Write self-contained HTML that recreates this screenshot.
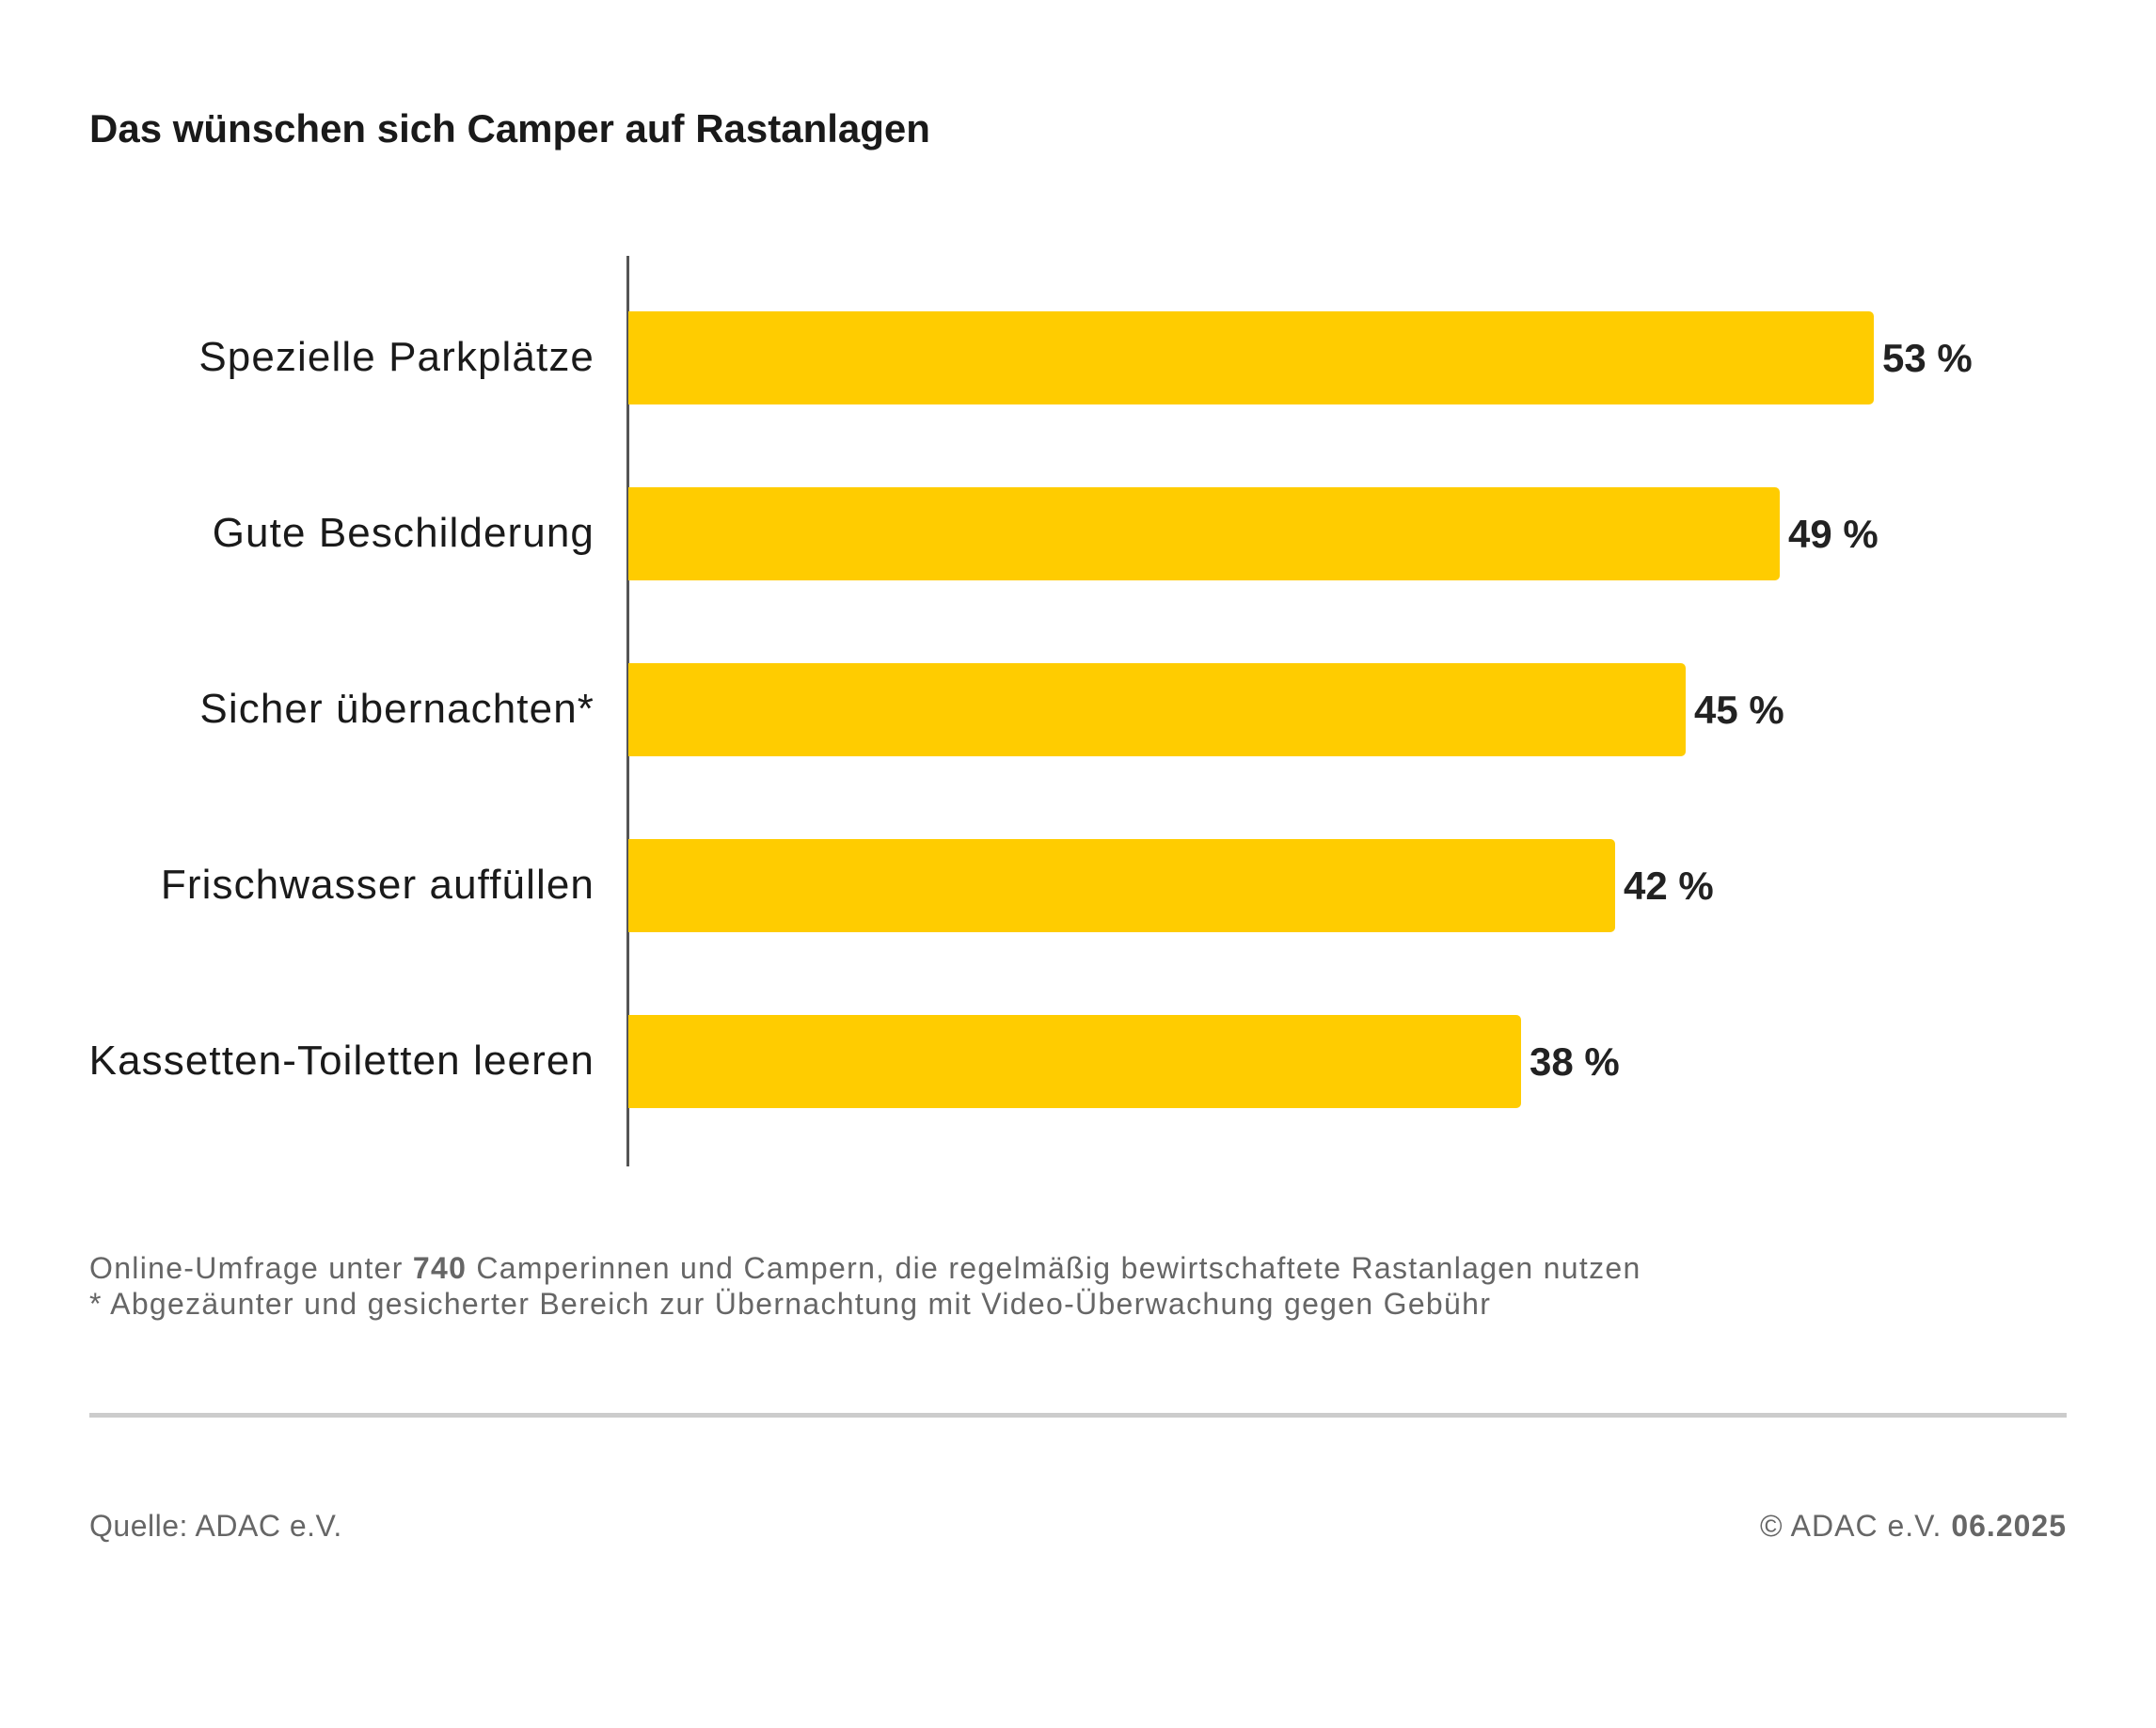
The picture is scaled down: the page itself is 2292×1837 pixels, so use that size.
<!DOCTYPE html>
<html><head><meta charset="utf-8"><style>
body{margin:0;background:#fff;width:2292px;height:1837px;position:relative;font-family:"Liberation Sans","DejaVu Sans",sans-serif;color:#1a1a1a;overflow:hidden}
.t{position:absolute;white-space:nowrap}
.lab{position:absolute;right:1660px;font-size:44px;line-height:98px;text-align:right;letter-spacing:1.1px}
.bar{position:absolute;left:668px;height:99px;background:#FFCC00;border-radius:0 5px 5px 0}
.val{position:absolute;font-size:42px;line-height:99px;font-weight:bold;color:#222}
.f{font-size:32px;color:#666;letter-spacing:1.3px}
</style></head><body>
<div class="t" style="left:95px;top:113px;font-size:42px;font-weight:bold;">Das wünschen sich Camper auf Rastanlagen</div>
<div style="position:absolute;left:666px;top:272px;width:3px;height:968px;background:#555"></div>

<div class="lab" style="top:331px">Spezielle Parkplätze</div>
<div class="bar" style="top:331px;width:1324px"></div>
<div class="val" style="top:331px;left:2001px">53 %</div>

<div class="lab" style="top:518px">Gute Beschilderung</div>
<div class="bar" style="top:518px;width:1224px"></div>
<div class="val" style="top:518px;left:1901px">49 %</div>

<div class="lab" style="top:705px">Sicher übernachten*</div>
<div class="bar" style="top:705px;width:1124px"></div>
<div class="val" style="top:705px;left:1801px">45 %</div>

<div class="lab" style="top:892px">Frischwasser auffüllen</div>
<div class="bar" style="top:892px;width:1049px"></div>
<div class="val" style="top:892px;left:1726px">42 %</div>

<div class="lab" style="top:1079px">Kassetten-Toiletten leeren</div>
<div class="bar" style="top:1079px;width:949px"></div>
<div class="val" style="top:1079px;left:1626px">38 %</div>

<div class="t f" style="left:95px;top:1330px">Online-Umfrage unter <b>740</b> Camperinnen und Campern, die regelmäßig bewirtschaftete Rastanlagen nutzen</div>
<div class="t f" style="left:95px;top:1368px">* Abgezäunter und gesicherter Bereich zur Übernachtung mit Video-Überwachung gegen Gebühr</div>
<div style="position:absolute;left:95px;top:1502px;width:2102px;height:5px;background:#ccc"></div>
<div class="t f" style="left:95px;top:1604px;letter-spacing:0.5px">Quelle: ADAC e.V.</div>
<div class="t f" style="right:95px;top:1604px;letter-spacing:1px">© ADAC e.V. <b>06.2025</b></div>
</body></html>
